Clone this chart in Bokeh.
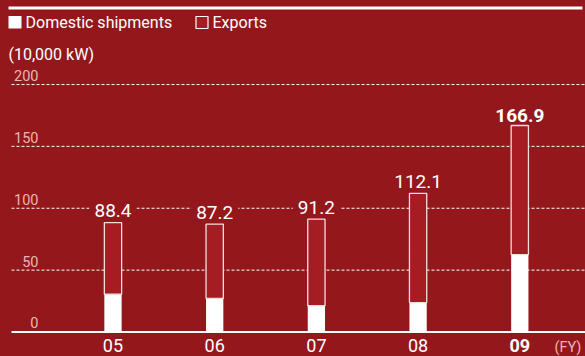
from bokeh.plotting import figure
from bokeh.models import Range1d
from bokeh.core.properties import value
from bokeh.embed import file_html
from bokeh.resources import INLINE

# ---- data ----
years = ["05", "06", "07", "08", "09"]
domestic = [30.5, 27.1, 21.2, 23.8, 62.6]
exports = [57.9, 60.1, 70.0, 88.3, 104.3]
totals = [88.4, 87.2, 91.2, 112.1, 166.9]
total_labels = ["88.4", "87.2", "91.2", "112.1", "166.9"]
y_ticks = [0, 50, 100, 150, 200]
y_tick_labels = ["0", "50", "100", "150", "200"]
grid_ticks = [50, 100, 150, 200]

# ---- style ----
BG = "#94171c"
BAR = "#a51c22"
PINK = "#e8b6b6"
FONT = value("Roboto")
W, H = 585, 356
X0, X1 = -1.106, 4.646
Y0, Y1 = -19.8, 267.9


def px(v):
    return X0 + v / W * (X1 - X0)


def py(v):
    return Y1 - v / H * (Y1 - Y0)


p = figure(width=W, height=H, output_backend="svg", toolbar_location=None,
           x_range=Range1d(X0, X1), y_range=Range1d(Y0, Y1), min_border=0,
           x_axis_location=None, y_axis_location=None,
           background_fill_color=BG, border_fill_color=BG, outline_line_color=None)
p.grid.visible = False

xs = list(range(len(years)))

# grid lines
p.segment(x0=[px(11)] * len(grid_ticks), x1=[X1] * len(grid_ticks), y0=grid_ticks, y1=grid_ticks,
          line_color="white", line_width=1, line_dash="3 2")
# baseline
p.segment(x0=[px(11)], x1=[X1], y0=[0], y1=[0], line_color="white", line_width=2)

# y tick labels
p.text(x=[px(38)] * len(y_ticks), y=y_ticks, text=y_tick_labels, text_align="right",
       text_baseline="alphabetic", y_offset=-9, text_font=FONT, text_font_size="14.5px",
       text_color=PINK)

# value labels (with background to break grid lines)
p.text(x=xs[:4], y=totals[:4], text=total_labels[:4], text_align="center",
       text_baseline="alphabetic", y_offset=-12, text_font=FONT, text_font_size="19px",
       text_color="white", background_fill_color=BG, padding=5)
p.text(x=xs[4:], y=totals[4:], text=total_labels[4:], text_align="center",
       text_baseline="alphabetic", y_offset=-10, text_font=FONT, text_font_size="19px",
       text_font_style="bold", text_color="white", background_fill_color=BG, padding=3)

# bars
BW = 0.17
p.vbar(x=xs, width=BW, bottom=0, top=domestic, fill_color="white", line_color=None)
p.vbar(x=xs, width=BW, bottom=domestic, top=totals, fill_color=BAR,
       line_color="#f3dede", line_width=1.3)

# x tick labels
p.text(x=xs[:4], y=[py(352)] * 4, text=years[:4], text_align="center", y_offset=-7,
       text_baseline="alphabetic", text_font=FONT, text_font_size="18px", text_color="white")
p.text(x=xs[4:], y=[py(352)], text=years[4:], text_align="center", y_offset=-7,
       text_baseline="alphabetic", text_font=FONT, text_font_size="18px",
       text_font_style="bold", text_color="white")
p.text(x=[px(554)], y=[py(352)], text=["(FY)"], text_align="left", y_offset=-5,
       text_baseline="alphabetic", text_font=FONT, text_font_size="14.5px", text_color=PINK)

# top rule
p.segment(x0=[px(8)], x1=[px(582)], y0=[py(7.5)], y1=[py(7.5)], line_color="white", line_width=3)

# legend
p.quad(left=[px(8)], right=[px(21)], top=[py(15.5)], bottom=[py(28)],
       fill_color="white", line_color=None)
p.quad(left=[px(195.5)], right=[px(207.5)], top=[py(16)], bottom=[py(28)],
       fill_color=BAR, line_color="white", line_width=1.2)
p.text(x=[px(25)], y=[py(27.5)], text=["Domestic shipments"], text_baseline="alphabetic",
       y_offset=-5.5, text_font=FONT, text_font_size="16px", text_color="white")
p.text(x=[px(212)], y=[py(27.5)], text=["Exports"], text_baseline="alphabetic",
       y_offset=-5.5, text_font=FONT, text_font_size="16px", text_color="white")

# unit label
p.text(x=[px(8)], y=[py(58)], text=["(10,000 kW)"], text_baseline="alphabetic",
       y_offset=-4.5, text_font=FONT, text_font_size="16px", text_color="white")

html = file_html(p, INLINE, title="chart")
html = html.replace("</head>",
                    "<style>html,body{margin:0;padding:0;background:%s;overflow:hidden}</style></head>" % BG, 1)
open("out.html", "w").write(html)
